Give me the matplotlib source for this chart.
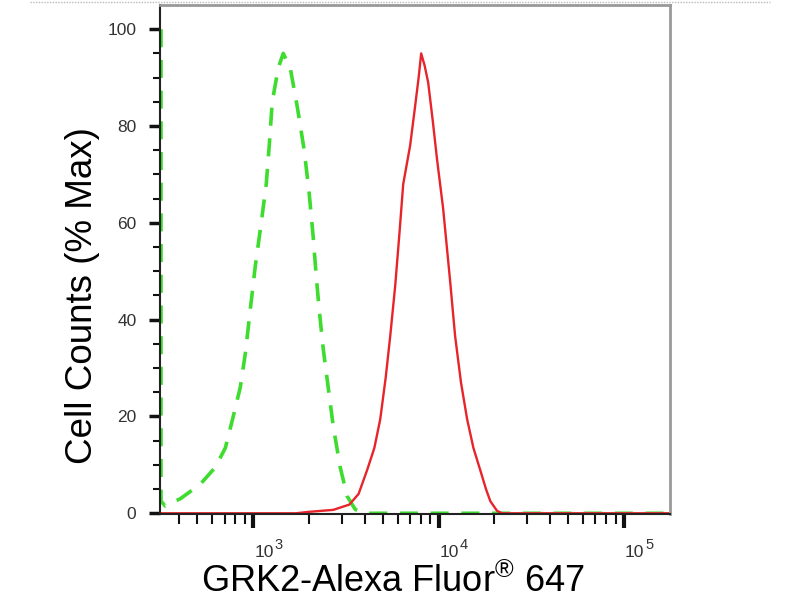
import matplotlib
matplotlib.use("Agg")
import matplotlib.pyplot as plt
import matplotlib.transforms as mtransforms
from matplotlib.lines import Line2D
from matplotlib.ticker import FixedLocator, NullFormatter

# isotype control (green, dashed)
control_x = [318, 318, 335, 404, 518, 624, 707, 780, 851, 906, 963, 1025, 1104,
             1175, 1220, 1266, 1364, 1451, 1583, 1727, 1883, 2004, 2106, 2186,
             2269, 2384, 2537, 2700, 2944, 3212, 3548, 4017, 177000]
control_y = [100, 2.5, 1.5, 3, 6, 9.5, 13.5, 20, 26, 33, 42, 51, 60,
             68, 76, 85, 92, 95, 92, 84, 75, 66, 57, 49,
             42, 34, 26, 18, 9.5, 3.5, 0.8, 0, 0]

# GRK2 stained sample (red)
sample_x = [314, 1700, 2000, 2700, 3300, 3700, 4120, 4500, 4840, 5180, 5480,
            5830, 6150, 6440, 7020, 7460, 7800, 8050, 8400, 8780, 9300, 9810,
            10570, 11530, 12270, 13200, 14250, 15400, 16740, 18000, 19000,
            20660, 22000, 177000]
sample_y = [0, 0, 0.3, 0.7, 1.8, 4, 9, 13.5, 19.4, 28, 36.6,
            47, 58, 68, 76, 84, 90, 95, 92.5, 89, 81, 73,
            63, 48, 36.6, 27, 19.4, 13.5, 9, 5, 2.5,
            0.5, 0, 0]

y_ticks = [0, 20, 40, 60, 80, 100]
x_ticks = [1e3, 1e4, 1e5]
x_exponents = ['3', '4', '5']

plt.rcParams['font.family'] = ['Liberation Sans', 'DejaVu Sans']
plt.rcParams['mathtext.fontset'] = 'custom'
plt.rcParams['mathtext.rm'] = 'Liberation Sans'
plt.rcParams['mathtext.it'] = 'Liberation Sans'

fig = plt.figure(figsize=(8, 6), dpi=100)
ax = fig.add_axes([160 / 800, 1 - 514 / 600, 510 / 800, 509 / 600])

ax.plot(control_x, control_y, color='#3ddc2e', linewidth=2.6,
        linestyle=(0, (5, 3.5)), solid_capstyle='butt')
ax.plot(sample_x, sample_y, color='#e8242b', linewidth=1.7)

ax.set_xscale('log')
ax.set_xlim(314, 177000)
ax.set_ylim(-0.15, 105)

minor_x = [m * 10 ** e for e in (2, 3, 4) for m in range(2, 10)]
minor_x = [v for v in minor_x if 314 < v < 177000]
ax.xaxis.set_major_locator(FixedLocator(x_ticks))
ax.xaxis.set_minor_locator(FixedLocator(minor_x))
ax.xaxis.set_major_formatter(NullFormatter())
ax.xaxis.set_minor_formatter(NullFormatter())

ax.set_yticks(y_ticks)
ax.set_yticks(list(range(5, 100, 5)), minor=True)

ax.tick_params(axis='x', which='major', direction='out', length=10, width=3,
               color='#111111')
ax.tick_params(axis='x', which='minor', direction='out', length=7, width=1.5,
               color='#111111')
ax.tick_params(axis='y', which='major', direction='out', length=8, width=2.5,
               labelsize=12.5, pad=9, color='#111111', labelcolor='#333333')
ax.tick_params(axis='y', which='minor', direction='out', length=5, width=1.5,
               color='#111111')

# FlowJo-style decade labels: "10" right of the tick with a big exponent
base_tr = mtransforms.blended_transform_factory(ax.transData, ax.transAxes)
for v, e in zip(x_ticks, x_exponents):
    t1 = base_tr + mtransforms.ScaledTranslation(1 / 100, -43 / 100, fig.dpi_scale_trans)
    t2 = base_tr + mtransforms.ScaledTranslation(21 / 100, -35 / 100, fig.dpi_scale_trans)
    ax.text(v, 0, '10', transform=t1, ha='left', va='baseline',
            fontsize=12.5, color='#333333', clip_on=False)
    ax.text(v, 0, e, transform=t2, ha='left', va='baseline',
            fontsize=10.5, color='#333333', clip_on=False)

for side in ('left', 'bottom'):
    ax.spines[side].set_color('#222222')
    ax.spines[side].set_linewidth(1.5)
for side in ('top', 'right'):
    ax.spines[side].set_color('#999999')
    ax.spines[side].set_linewidth(2)

fig.text(83 / 800, 1 - 296 / 600, 'Cell Counts (% Max)', rotation=90,
         ha='center', va='center', fontsize=26.5)
fig.text(393 / 800, 1 - 582 / 600, 'GRK2-Alexa Fluor$^{®}$ 647',
         ha='center', va='center', fontsize=26)

fig.add_artist(Line2D([30 / 800, 770 / 800], [1 - 2 / 600, 1 - 2 / 600],
                      color='#bbbbbb', linewidth=1, linestyle=(0, (1, 1))))

fig.savefig('out.png', dpi=100)
